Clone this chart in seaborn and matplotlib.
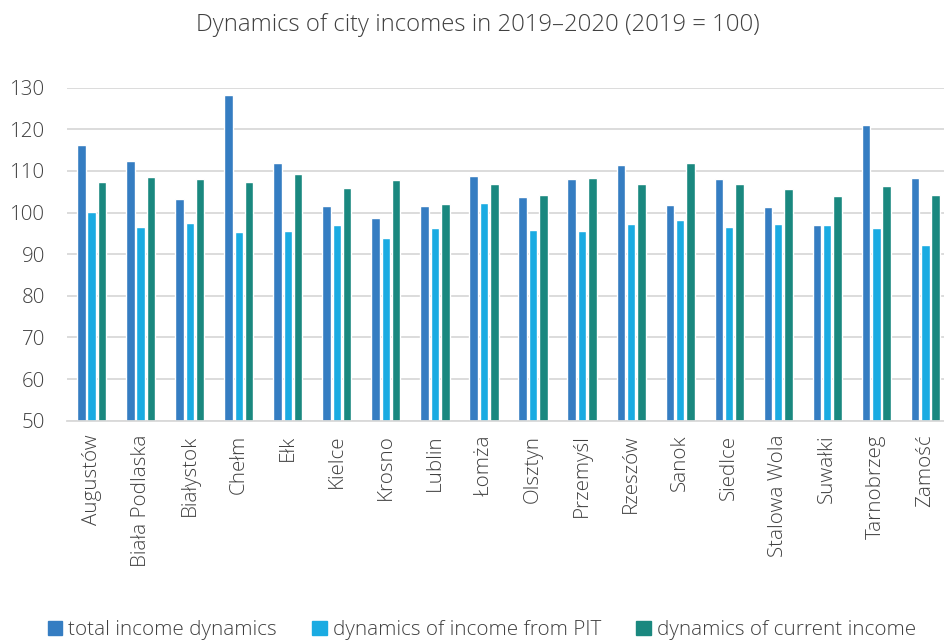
import matplotlib
matplotlib.use("Agg")
import matplotlib.pyplot as plt
import seaborn as sns
import pandas as pd

cities = ["Augustów", "Biała Podlaska", "Białystok", "Chełm", "Ełk", "Kielce",
          "Krosno", "Lublin", "Łomża", "Olsztyn", "Przemyśl", "Rzeszów",
          "Sanok", "Siedlce", "Stalowa Wola", "Suwałki", "Tarnobrzeg", "Zamość"]

total_income = [116.3, 112.3, 103.2, 128.2, 111.8, 101.6, 98.6, 101.6, 108.9,
                103.7, 108.1, 111.4, 101.9, 108.1, 101.4, 97.1, 121.0, 108.2]
pit_income = [100.1, 96.5, 97.5, 95.3, 95.6, 97.1, 93.9, 96.4, 102.4,
              95.9, 95.5, 97.2, 98.1, 96.5, 97.2, 97.1, 96.3, 92.1]
current_income = [107.3, 108.5, 108.0, 107.3, 109.2, 105.8, 107.8, 102.0, 106.9,
                  104.3, 108.2, 106.8, 112.0, 106.9, 105.7, 103.9, 106.5, 104.3]

series_names = ["total income dynamics", "dynamics of income from PIT",
                "dynamics of current income"]
series_colors = ["#357DC2", "#1AABE2", "#1A887F"]

df = pd.concat([
    pd.DataFrame({"city": cities, "value": vals, "series": name})
    for name, vals in zip(series_names, [total_income, pit_income, current_income])
])

sns.set_theme(style="white")
plt.rcParams["font.family"] = ["Open Sans", "DejaVu Sans"]
plt.rcParams["font.weight"] = "light"
text_color = "#404040"

fig = plt.figure(figsize=(9.44, 6.43), dpi=100)
ax = fig.add_axes([67.2 / 944, 222.3 / 643, 882.6 / 944, 333.0 / 643])

sns.barplot(data=df, x="city", y="value", hue="series", hue_order=series_names,
            palette=series_colors, width=0.63, gap=0.17, ax=ax, legend=False,
            errorbar=None, saturation=1)

ax.set_ylim(50, 130)
ax.set_xlim(-0.5, len(cities) - 0.5)
ax.set_yticks(range(50, 131, 10))
ax.yaxis.grid(True, color="#D9D9D9", linewidth=1.3)
ax.set_axisbelow(True)
for side in ["left", "right", "top"]:
    ax.spines[side].set_visible(False)
ax.spines["bottom"].set_color("#D9D9D9")
ax.spines["bottom"].set_linewidth(1.3)
ax.tick_params(axis="y", length=0, pad=16, labelsize=14.8, labelcolor=text_color)
ax.tick_params(axis="x", length=0, pad=10, labelsize=14.8, labelcolor=text_color,
               rotation=90)
ax.set_xlabel("")
ax.set_ylabel("")

fig.text(478 / 944, 1 - 25 / 643, "Dynamics of city incomes in 2019–2020 (2019 = 100)",
         ha="center", va="center", fontsize=17.2, color=text_color)

handles = [plt.Rectangle((0, 0), 1, 1, color=c) for c in series_colors]
fig.legend(handles, series_names, loc="center", bbox_to_anchor=(482 / 944, 1 - 630 / 643),
           ncol=3, frameon=False, fontsize=14.9, labelcolor=text_color,
           handlelength=0.7, handleheight=0.7, handletextpad=0.3, columnspacing=1.7)

fig.savefig("out.png", dpi=100)
